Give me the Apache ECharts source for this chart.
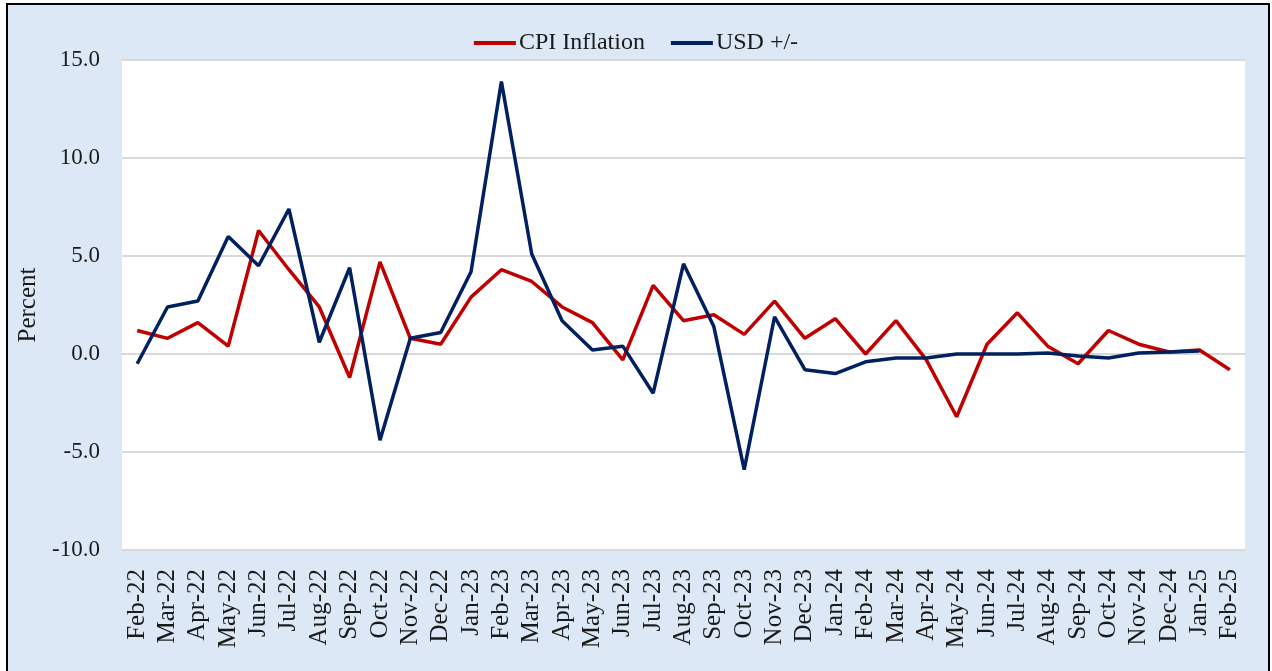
<!DOCTYPE html>
<html>
<head>
<meta charset="utf-8">
<script src="https://cdn.jsdelivr.net/npm/echarts@6/dist/echarts.min.js"></script>
<style>
  html, body { margin: 0; padding: 0; background: #ffffff; }
  #frame { position: absolute; left: 6px; top: 3px; width: 1264px; height: 700px;
           border-left: 2px solid #000; border-top: 2px solid #000; border-right: 2px solid #000;
           background: #DCE8F5; box-sizing: border-box; }
  #chart { position: absolute; left: 0; top: 0; width: 1272px; height: 671px; }
</style>
</head>
<body>
<div id="frame"></div>
<div id="chart"></div>
<script>
const categories = ["Feb-22","Mar-22","Apr-22","May-22","Jun-22","Jul-22","Aug-22","Sep-22","Oct-22","Nov-22","Dec-22",
  "Jan-23","Feb-23","Mar-23","Apr-23","May-23","Jun-23","Jul-23","Aug-23","Sep-23","Oct-23","Nov-23","Dec-23",
  "Jan-24","Feb-24","Mar-24","Apr-24","May-24","Jun-24","Jul-24","Aug-24","Sep-24","Oct-24","Nov-24","Dec-24",
  "Jan-25","Feb-25"];
const cpiInflation = [1.2, 0.8, 1.6, 0.4, 6.3, 4.3, 2.4, -1.2, 4.7, 0.8, 0.5,
  2.9, 4.3, 3.7, 2.4, 1.6, -0.3, 3.5, 1.7, 2.0, 1.0, 2.7, 0.8,
  1.8, 0.0, 1.7, -0.3, -3.2, 0.5, 2.1, 0.4, -0.5, 1.2, 0.5, 0.1,
  0.2, -0.8];
const usdChange = [-0.5, 2.4, 2.7, 6.0, 4.5, 7.4, 0.6, 4.4, -4.4, 0.8, 1.1,
  4.2, 13.9, 5.1, 1.7, 0.2, 0.4, -2.0, 4.6, 1.4, -5.9, 1.9, -0.8,
  -1.0, -0.4, -0.2, -0.2, 0.0, 0.0, 0.0, 0.05, -0.1, -0.2, 0.05, 0.1,
  0.15, null];
const seriesNames = ["CPI Inflation", "USD +/-"];
const yTicks = { min: -10, max: 15, interval: 5 };

const chart = echarts.init(document.getElementById('chart'), null, { renderer: 'canvas' });
const serif = "'Liberation Serif', 'DejaVu Serif', serif";
chart.setOption({
  backgroundColor: 'transparent',
  animation: false,
  legend: {
    top: 26,
    left: 'center',
    icon: 'rect',
    itemWidth: 42,
    itemHeight: 4,
    itemGap: 26,
    textStyle: { fontFamily: serif, fontSize: 24, color: '#1a1a1a', padding: [0, 0, 0, -2] },
    data: seriesNames
  },
  grid: {
    left: 122, right: 27, top: 60, bottom: 121,
    show: true, backgroundColor: '#ffffff', borderWidth: 0
  },
  xAxis: {
    type: 'category',
    data: categories,
    boundaryGap: true,
    axisLine: { show: true, lineStyle: { color: '#D9D9D9', width: 2 } },
    axisTick: { show: false },
    axisLabel: { rotate: 90, interval: 0, margin: 19, fontFamily: serif, fontSize: 25, color: '#1a1a1a' }
  },
  yAxis: {
    type: 'value',
    min: yTicks.min, max: yTicks.max, interval: yTicks.interval,
    name: 'Percent',
    nameLocation: 'middle',
    nameGap: 75,
    nameRotate: 90,
    nameTextStyle: { fontFamily: serif, fontSize: 25, color: '#1a1a1a' },
    axisLine: { show: false },
    axisTick: { show: false },
    splitLine: { lineStyle: { color: '#D9D9D9', width: 2 } },
    axisLabel: { margin: 22, fontFamily: serif, fontSize: 23, color: '#1a1a1a',
      formatter: v => v.toFixed(1) }
  },
  series: [
    { name: seriesNames[0], type: 'line', data: cpiInflation, symbol: 'none',
      lineStyle: { color: '#C00000', width: 3.5 }, itemStyle: { color: '#C00000' } },
    { name: seriesNames[1], type: 'line', data: usdChange, symbol: 'none',
      lineStyle: { color: '#002060', width: 3.5 }, itemStyle: { color: '#002060' } }
  ]
});
</script>
</body>
</html>
